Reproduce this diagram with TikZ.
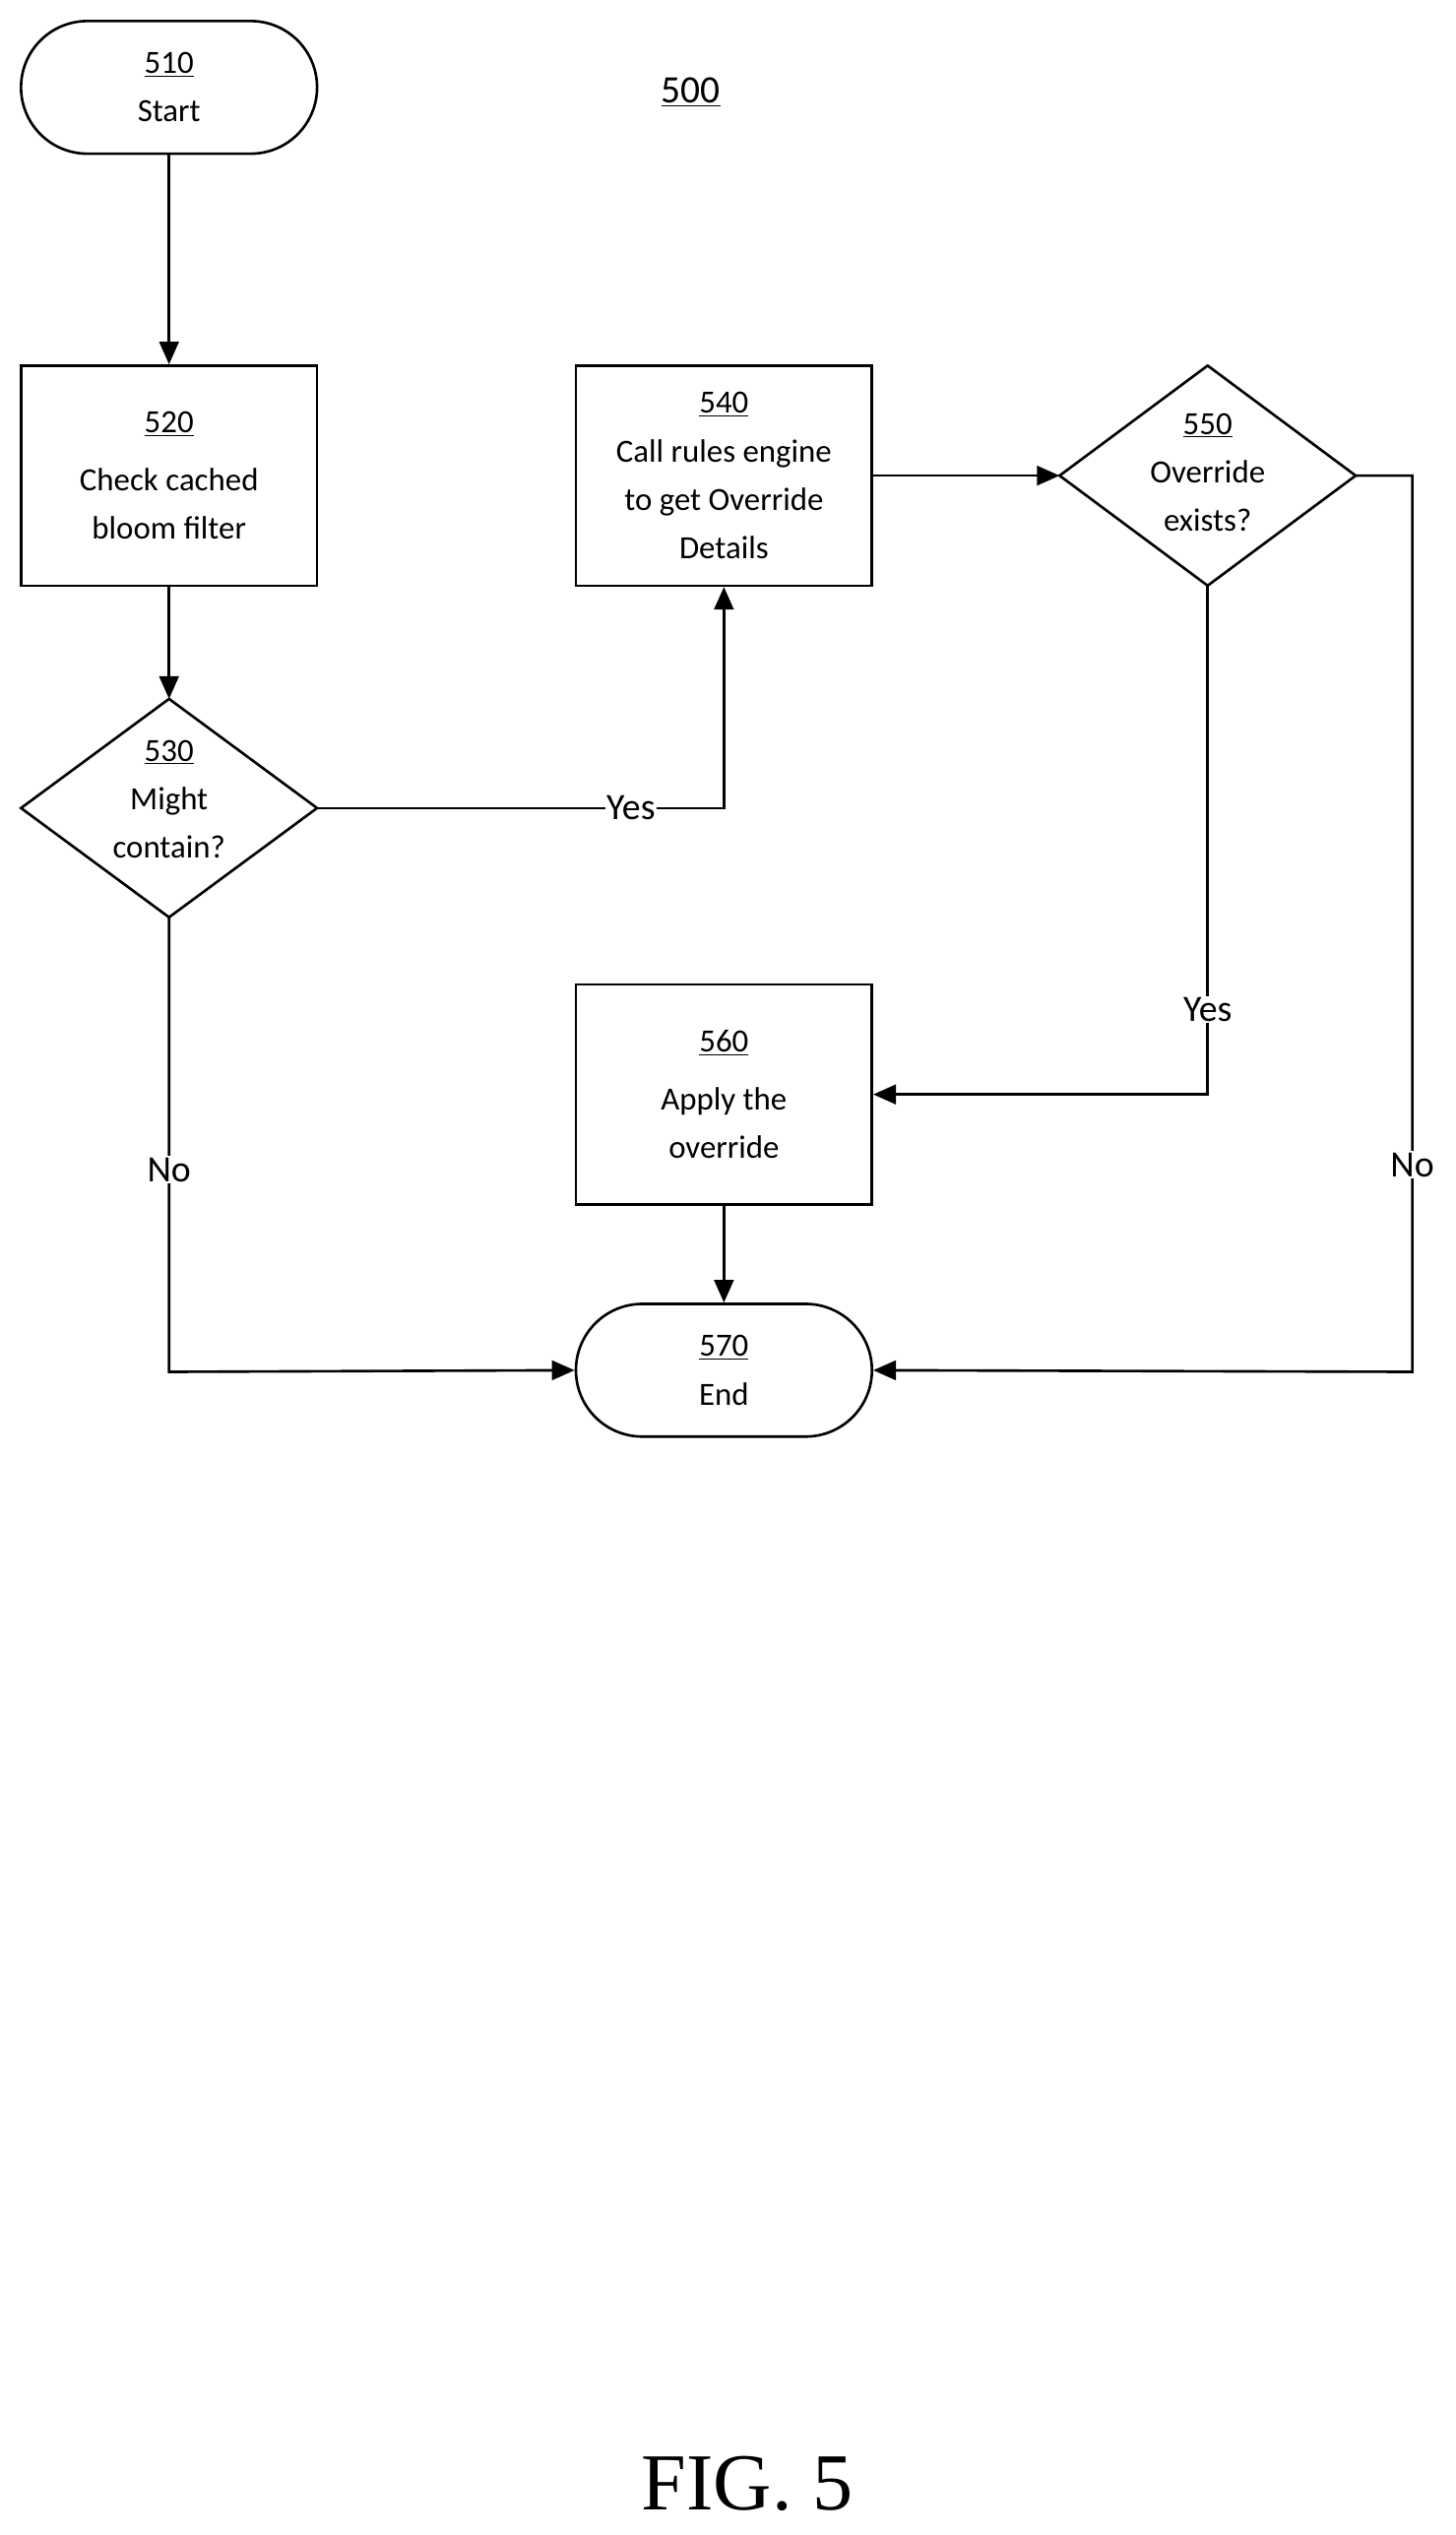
\documentclass[tikz,border=0pt]{standalone}
\usepackage{fontspec}
\setmainfont{Carlito}
\newfontfamily\figfont{Liberation Serif}
\usetikzlibrary{shapes.geometric,arrows.meta}
\begin{document}
\begin{tikzpicture}[x=1pt,y=-1pt,
  every node/.style={font=\fontsize{20}{30}\selectfont, align=center},
  box/.style={draw, line width=1.6pt, minimum width=183pt, minimum height=136pt, inner sep=0pt},
  term/.style={draw, line width=1.6pt, rounded corners=41pt, minimum width=183pt, minimum height=82pt, inner sep=0pt},
  dia/.style={draw, line width=1.6pt, diamond, minimum width=183pt, minimum height=136pt, inner sep=0pt, aspect=1.35},
  lab/.style={fill=white, inner sep=1pt, font=\fontsize{23}{28}\selectfont},
  arr/.style={line width=1.6pt, -{Triangle[length=14pt,width=12pt]}},
  ln/.style={line width=1.6pt}]
\useasboundingbox (0,0) rectangle (900,1567);
\node[term] (s510) at (104.5,54) {\underline{510}\\Start};
\node at (427,57) {\fontsize{24}{28}\selectfont\underline{500}};
\node[box] (b520) at (104.5,294) {\underline{520}\\[6pt]Check cached\\bloom filter};
\node[box] (b540) at (447.5,294) {\underline{540}\\Call rules engine\\to get Override\\Details};
\node[box] (b560) at (447.5,676.5) {\underline{560}\\[6pt]Apply the\\override};
\node[term] (e570) at (447.5,847) {\underline{570}\\End};
\path (104.5,499.5) node[draw, line width=1.6pt, shape=coordinate] (c530) {};
\draw[ln] (13,499.5) -- (104.5,432) -- (196,499.5) -- (104.5,567) -- cycle;
\node (d530) at (104.5,494) {\underline{530}\\Might\\contain?};
\draw[ln] (655,294) -- (746.5,226) -- (838,294) -- (746.5,362) -- cycle;
\node (d550) at (746.5,292) {\underline{550}\\Override\\exists?};
\coordinate (d530r) at (196,499.5);
\coordinate (d530b) at (104.5,567);
\coordinate (d550l) at (655,294);
\coordinate (d550r) at (838,294);
\coordinate (d550b) at (746.5,362);
\draw[arr] (s510.south) -- (b520.north);
\draw[arr] (b520.south) -- (104.5,432);
\draw[arr] (d530r) -- (447.5,499.5) -- (b540.south);
\node[lab] at (390,499.5) {Yes};
\draw[arr] (b540.east) -- (d550l);
\draw[arr] (d550b) -- (746.5,676.5) -- (b560.east);
\node[lab] at (746.5,624) {Yes};
\draw[arr] (d550r) -- (873,294) -- (873,848) -- (e570.east);
\node[lab] at (873,720) {No};
\draw[arr] (d530b) -- (104.5,848) -- (e570.west);
\node[lab] at (104.5,723) {No};
\draw[arr] (b560.south) -- (e570.north);
\node[font=\figfont\fontsize{50}{56}\selectfont] at (462,1535) {FIG. 5};
\end{tikzpicture}
\end{document}
